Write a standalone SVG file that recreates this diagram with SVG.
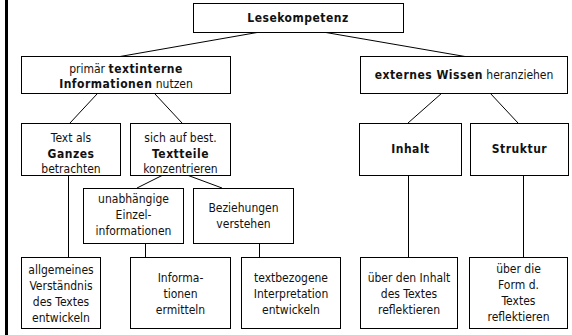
<svg xmlns="http://www.w3.org/2000/svg" width="572" height="335" viewBox="0 0 572 335">
<style>
.b{fill:#fff;stroke:#000;stroke-width:1}
.c{stroke:#000;stroke-width:1;fill:none}
text{font-family:"DejaVu Sans Condensed","DejaVu Sans",sans-serif;font-stretch:condensed;font-size:12px;fill:#111;text-anchor:middle}
.bd{font-weight:bold;letter-spacing:0.5px}
</style>
<rect x="0" y="0" width="572" height="335" fill="#fff"/>
<rect x="5" y="0" width="3" height="335" fill="#000"/>
<g id="connectors">
<line class="c" x1="260" y1="32" x2="120" y2="56.5"/>
<line class="c" x1="323" y1="32" x2="465" y2="56.5"/>
<line class="c" x1="97" y1="94" x2="70" y2="123"/>
<line class="c" x1="155" y1="94" x2="182" y2="123"/>
<line class="c" x1="442" y1="93" x2="408" y2="123"/>
<line class="c" x1="490" y1="93" x2="518" y2="123"/>
<line class="c" x1="163" y1="175" x2="137" y2="188"/>
<line class="c" x1="187" y1="175" x2="222" y2="188"/>
<line class="c" x1="68.5" y1="175" x2="68.5" y2="257"/>
<line class="c" x1="145.5" y1="243" x2="145.5" y2="257"/>
<line class="c" x1="259.5" y1="243" x2="259.5" y2="257"/>
<line class="c" x1="408.5" y1="175" x2="408.5" y2="257"/>
<line class="c" x1="523.5" y1="175" x2="523.5" y2="257"/>
</g>
<g id="lesekompetenz">
<rect class="b" x="193.5" y="3.5" width="210" height="29"/>
<text class="bd" x="298" y="22">Lesekompetenz</text>
</g>
<g id="textintern">
<rect class="b" x="21.5" y="56.5" width="209" height="37"/>
<text x="126" y="73">primär <tspan class="bd">textinterne</tspan></text>
<text x="126" y="88"><tspan class="bd">Informationen</tspan> nutzen</text>
</g>
<g id="extern">
<rect class="b" x="360.5" y="56.5" width="207" height="37"/>
<text x="464" y="79"><tspan class="bd">externes Wissen</tspan> heranziehen</text>
</g>
<g id="ganzes">
<rect class="b" x="21.5" y="123.5" width="99" height="52"/>
<text x="71" y="142">Text als</text>
<text x="71" y="157.5" class="bd">Ganzes</text>
<text x="71" y="173">betrachten</text>
</g>
<g id="textteile">
<rect class="b" x="130.5" y="123.5" width="100" height="52"/>
<text x="180.5" y="142">sich auf best.</text>
<text x="180.5" y="157.5" class="bd">Textteile</text>
<text x="180.5" y="173">konzentrieren</text>
</g>
<g id="inhalt">
<rect class="b" x="359.5" y="123.5" width="102" height="52"/>
<text x="410.5" y="153" class="bd">Inhalt</text>
</g>
<g id="struktur">
<rect class="b" x="470.5" y="123.5" width="98" height="52"/>
<text x="519.5" y="153" class="bd">Struktur</text>
</g>
<g id="einzel">
<rect class="b" x="83.5" y="188.5" width="100" height="55"/>
<text x="133.5" y="203">unabhängige</text>
<text x="133.5" y="219">Einzel-</text>
<text x="133.5" y="235">informationen</text>
</g>
<g id="beziehungen">
<rect class="b" x="193.5" y="188.5" width="100" height="55"/>
<text x="243.5" y="212">Beziehungen</text>
<text x="243.5" y="228">verstehen</text>
</g>
<g id="allgemein">
<rect class="b" x="21.5" y="257.5" width="79" height="71"/>
<text x="61" y="274">allgemeines</text>
<text x="61" y="290">Verständnis</text>
<text x="61" y="306">des Textes</text>
<text x="61" y="322">entwickeln</text>
</g>
<g id="ermitteln">
<rect class="b" x="130.5" y="257.5" width="100" height="71"/>
<text x="180.5" y="282">Informa-</text>
<text x="180.5" y="298">tionen</text>
<text x="180.5" y="314">ermitteln</text>
</g>
<g id="interpretation">
<rect class="b" x="241.5" y="257.5" width="99" height="71"/>
<text x="291" y="282">textbezogene</text>
<text x="291" y="298">Interpretation</text>
<text x="291" y="314">entwickeln</text>
</g>
<g id="reflinhalt">
<rect class="b" x="360.5" y="257.5" width="97" height="71"/>
<text x="409" y="282">über den Inhalt</text>
<text x="409" y="298">des Textes</text>
<text x="409" y="314">reflektieren</text>
</g>
<g id="refform">
<rect class="b" x="469.5" y="257.5" width="98" height="71"/>
<text x="518.5" y="273">über die</text>
<text x="518.5" y="289">Form d.</text>
<text x="518.5" y="305">Textes</text>
<text x="518.5" y="321">reflektieren</text>
</g>
</svg>
